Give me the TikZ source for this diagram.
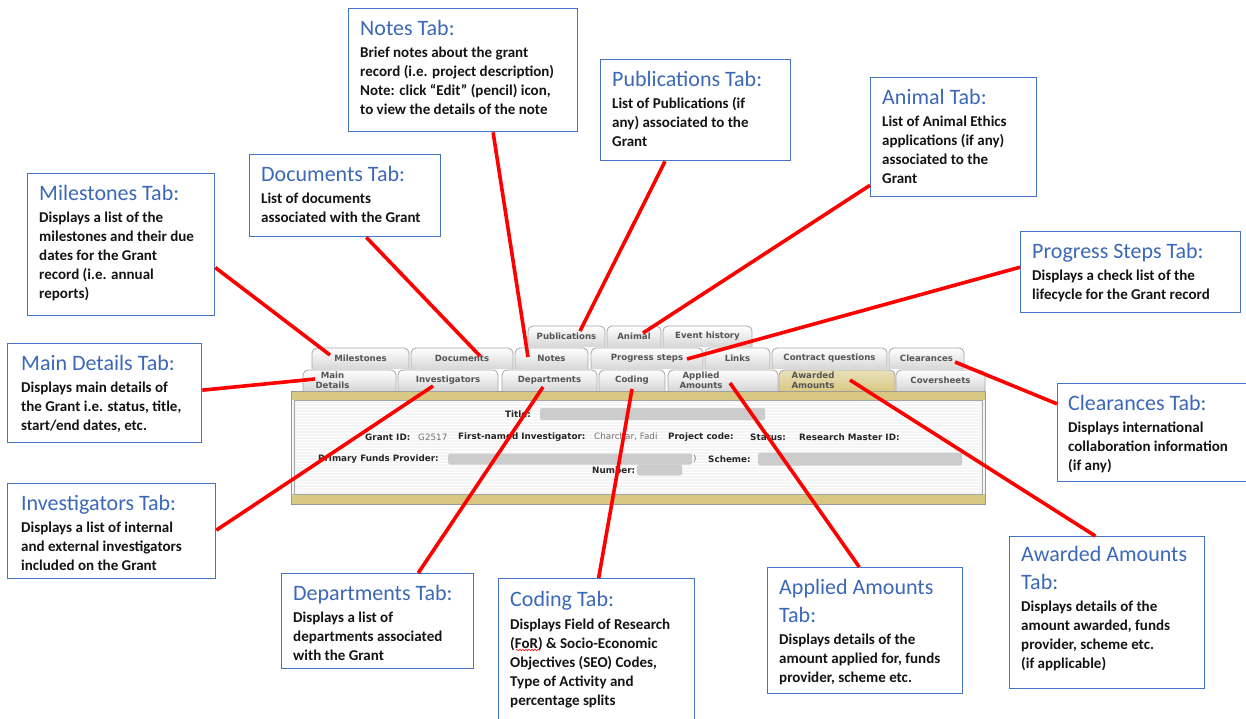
\documentclass[tikz,border=0pt]{standalone}
\usepackage{fontspec}
\setmainfont{Carlito}
\newfontfamily\uifont{DejaVu Sans}
\usetikzlibrary{calc,decorations.pathmorphing}
\definecolor{boxblue}{RGB}{68,114,196}
\definecolor{titleblue}{RGB}{60,104,184}
\definecolor{gold}{RGB}{217,200,132}
\definecolor{tabedge}{RGB}{165,165,165}
\definecolor{tabtxt}{RGB}{85,85,85}
\tikzset{
  callout/.style={draw=boxblue, line width=1.3pt, fill=white, anchor=north west, inner sep=0pt},
  calltext/.style={anchor=north west, align=left, inner sep=0pt,
    font=\bfseries\fontsize{15}{19}\selectfont, text=black!92},
  redline/.style={draw=red, line width=3.6pt},
  tabplain/.style={draw=tabedge, line width=0.8pt, top color=white, bottom color=black!16},
  tabgold/.style={draw=tabedge, line width=0.8pt, top color=gold!55!white, bottom color=gold},
  tablabel/.style={font=\uifont\bfseries\fontsize{8.6}{10.5}\selectfont, text=tabtxt, align=center, inner sep=0pt},
  formlabel/.style={font=\uifont\bfseries\fontsize{8.8}{9}\selectfont, text=black!85, inner sep=0pt, anchor=west},
  formvalue/.style={font=\uifont\fontsize{8.8}{9}\selectfont, text=black!55, inner sep=0pt, anchor=west},
  blur/.style={fill=black!20, rounded corners=2pt, draw=none, inner sep=0pt, anchor=west},
}
\newcommand\calltitle[1]{{\mdseries\fontsize{22}{24}\selectfont\color{titleblue}#1}}
% name, x1, ytop, x2, ybottom, style, label, label x-offset
\newcommand\mytab[8]{%
  \draw[#6] (#2,#5) [rounded corners=5pt] -- (#2,#3) -- (#4,#3) -- (#4,#5);
  \node[tablabel] (#1) at ({(#2+#4)/2+(#8)},{(#3+#5)/2}) {#7};}
\begin{document}
\begin{tikzpicture}[x=1pt,y=-1pt]
\useasboundingbox (0,0) rectangle (1246,718);
\fill[white] (0,0) rectangle (1246,718);

% ---------- screenshot panel ----------
\node[draw=black!40, fill=black!4, line width=0.8pt, anchor=north west,
      minimum width=694pt, minimum height=113pt, inner sep=0pt] (panel) at (291,391) {};
\foreach \yy in {403,406,...,491} \draw[white, line width=1pt] (296,\yy) -- (980,\yy);
\fill[gold] (291.5,391.5) rectangle (984.5,400);
\fill[gold] (291.5,494) rectangle (984.5,504);
\draw[black!35, line width=0.6pt] (294,400) rectangle (982,494);

% ---------- tabs ----------
\mytab{t-pub}{528}{326}{605}{347}{tabplain}{Publications}{0}
\mytab{t-ani}{607}{326}{661}{347}{tabplain}{Animal}{0}
\mytab{t-evt}{663}{326}{752}{347}{tabplain}{Event history}{0}

\mytab{t-ms}{312}{348}{409}{369}{tabplain}{Milestones}{0}
\mytab{t-doc}{411}{348}{513}{369}{tabplain}{Documents}{0}
\mytab{t-not}{515}{348}{588}{369}{tabplain}{Notes}{0}
\mytab{t-prg}{591}{348}{703}{369}{tabplain}{Progress steps}{0}
\mytab{t-lnk}{705}{348}{770}{369}{tabplain}{Links}{0}
\mytab{t-con}{772}{348}{887}{369}{tabplain}{Contract questions}{0}
\mytab{t-clr}{889}{348}{964}{369}{tabplain}{Clearances}{0}

\mytab{t-main}{303}{370}{396}{391}{tabplain}{Main\\Details}{-17}
\mytab{t-inv}{398}{370}{498}{391}{tabplain}{Investigators}{0}
\mytab{t-dep}{502}{370}{597}{391}{tabplain}{Departments}{0}
\mytab{t-cod}{599}{370}{665}{391}{tabplain}{Coding}{0}
\mytab{t-app}{668}{370}{778}{391}{tabplain}{Applied\\Amounts}{-22}
\mytab{t-awd}{779}{370}{895}{391}{tabgold}{Awarded\\Amounts}{-24}
\mytab{t-cov}{896}{370}{985}{391}{tabplain}{Coversheets}{0}

% ---------- form contents ----------
\node[formlabel, anchor=east] (f-title) at (531,414) {Title:};
\node[blur, minimum width=225pt, minimum height=12pt] (b-title) at (540,414) {};
\node[formlabel] (f-gid) at (365,437) {Grant ID:};
\node[formvalue] (v-gid) at (418,437) {G2517};
\node[formlabel] (f-fni) at (458,437) {First-named Investigator:};
\node[formvalue] (v-fni) at (594,437) {Charchar, Fadi};
\node[formlabel] (f-pc) at (668,437) {Project code:};
\node[formlabel] (f-st) at (750,437) {Status:};
\node[formlabel] (f-rm) at (799,437) {Research Master ID:};
\node[formlabel] (f-pfp) at (318,459) {Primary Funds Provider:};
\node[blur, minimum width=244pt, minimum height=11pt] (b-pfp) at (448,459) {};
\node[formvalue] (v-par) at (693,459) {)};
\node[formlabel] (f-sch) at (708,459) {Scheme:};
\node[blur, minimum width=204pt, minimum height=13pt] (b-sch) at (758,459) {};
\node[formlabel] (f-num) at (592,470) {Number:};
\node[blur, minimum width=45pt, minimum height=11pt] (b-num) at (637,470) {};

% ---------- connector end points on tabs ----------
\coordinate (e-ms) at (330,355);
\coordinate (e-doc) at (480,356);
\coordinate (e-not) at (528,357);
\coordinate (e-pub) at (580,331);
\coordinate (e-ani) at (643,333);
\coordinate (e-prg) at (687,359);
\coordinate (e-clr) at (955,362);
\coordinate (e-main) at (315,379);
\coordinate (e-inv) at (433,386);
\coordinate (e-dep) at (543,387);
\coordinate (e-cod) at (632,389);
\coordinate (e-app) at (730,383);
\coordinate (e-awd) at (850,380);

% ---------- callout boxes ----------
\node[callout, minimum width=229pt, minimum height=123pt] (notes) at (348,8) {};
\node[callout, minimum width=191pt, minimum height=82pt] (docs) at (249,154) {};
\node[callout, minimum width=187pt, minimum height=142pt] (ms) at (27,173) {};
\node[callout, minimum width=190pt, minimum height=101pt] (pubs) at (600,59) {};
\node[callout, minimum width=166pt, minimum height=119pt] (animal) at (870,77) {};
\node[callout, minimum width=220pt, minimum height=81pt] (prog) at (1020,231) {};
\node[callout, minimum width=194pt, minimum height=99pt] (main) at (7,343) {};
\node[callout, minimum width=208pt, minimum height=95pt] (inv) at (7,483) {};
\node[callout, minimum width=200pt, minimum height=98pt] (clear) at (1057,383) {};
\node[callout, minimum width=192pt, minimum height=95pt] (dept) at (281,573) {};
\node[callout, minimum width=196pt, minimum height=160pt] (coding) at (498,578) {};
\node[callout, minimum width=195pt, minimum height=126pt] (applied) at (767,567) {};
\node[callout, minimum width=195pt, minimum height=152pt] (awarded) at (1009,536) {};

% ---------- connectors ----------
\draw[redline] ($(ms.north east)!0.66!(ms.south east)$) -- (e-ms);
\draw[redline] ($(docs.south west)!0.61!(docs.south east)$) -- (e-doc);
\draw[redline] ($(notes.south west)!0.63!(notes.south east)$) -- (e-not);
\draw[redline] ($(pubs.south west)!0.34!(pubs.south east)$) -- (e-pub);
\draw[redline] ($(animal.north west)!0.9!(animal.south west)$) -- (e-ani);
\draw[redline] ($(prog.north west)!0.44!(prog.south west)$) -- (e-prg);
\draw[redline] ($(clear.north west)!0.21!(clear.south west)$) -- (e-clr);
\draw[redline] ($(main.north east)!0.47!(main.south east)$) -- (e-main);
\draw[redline] ($(inv.north east)!0.49!(inv.south east)$) -- (e-inv);
\draw[redline] ($(dept.north west)!0.71!(dept.north east)$) -- (e-dep);
\draw[redline] ($(coding.north west)!0.51!(coding.north east)$) -- (e-cod);
\draw[redline] ($(applied.north west)!0.47!(applied.north east)$) -- (e-app);
\draw[redline] ($(awarded.north west)!0.44!(awarded.north east)$) -- (e-awd);

% ---------- callout texts ----------
\node[calltext] (notes-t) at ($(notes.north west)+(12,12)$) {\calltitle{Notes Tab:}\\[3pt]
  Brief notes about the grant\\ record (i.e. project description)\\
  Note: click “Edit” (pencil) icon,\\ to view the details of the note};
\node[calltext] (docs-t) at ($(docs.north west)+(12,12)$) {\calltitle{Documents Tab:}\\[3pt]
  List of documents\\ associated with the Grant};
\node[calltext] (ms-t) at ($(ms.north west)+(12,12)$) {\calltitle{Milestones Tab:}\\[3pt]
  Displays a list of the\\ milestones and their due\\ dates for the Grant\\ record (i.e. annual\\ reports)};
\node[calltext] (pubs-t) at ($(pubs.north west)+(12,12)$) {\calltitle{Publications Tab:}\\[3pt]
  List of Publications (if\\ any) associated to the\\ Grant};
\node[calltext] (animal-t) at ($(animal.north west)+(12,12)$) {\calltitle{Animal Tab:}\\[3pt]
  List of Animal Ethics\\ applications (if any)\\ associated to the\\ Grant};
\node[calltext] (prog-t) at ($(prog.north west)+(12,12)$) {\calltitle{Progress Steps Tab:}\\[3pt]
  Displays a check list of the\\ lifecycle for the Grant record};
\node[calltext] (main-t) at ($(main.north west)+(14,12)$) {\calltitle{Main Details Tab:}\\[3pt]
  Displays main details of\\ the Grant i.e. status, title,\\ start/end dates, etc.};
\node[calltext] (inv-t) at ($(inv.north west)+(14,12)$) {\calltitle{Investigators Tab:}\\[3pt]
  Displays a list of internal\\ and external investigators\\ included on the Grant};
\node[calltext] (clear-t) at ($(clear.north west)+(11,12)$) {\calltitle{Clearances Tab:}\\[3pt]
  Displays international\\ collaboration information\\ (if any)};
\node[calltext] (dept-t) at ($(dept.north west)+(12,12)$) {\calltitle{Departments Tab:}\\[3pt]
  Displays a list of\\ departments associated\\ with the Grant};
\node[calltext] (coding-t) at ($(coding.north west)+(12,13)$) {\calltitle{Coding Tab:}\\[4pt]
  Displays Field of Research\\ (FoR) \& Socio-Economic\\ Objectives (SEO) Codes,\\ Type of Activity and\\ percentage splits};
\node[calltext] (applied-t) at ($(applied.north west)+(12,12)$) {\calltitle{Applied Amounts}\\[9pt]
  \calltitle{Tab:}\\[3pt]
  Displays details of the\\ amount applied for, funds\\ provider, scheme etc.};
\node[calltext] (awarded-t) at ($(awarded.north west)+(12,10)$) {\calltitle{Awarded Amounts}\\[9pt]
  \calltitle{Tab:}\\[3pt]
  Displays details of the\\ amount awarded, funds\\ provider, scheme etc.\\ (if applicable)};

% spell-check squiggle under FoR
\draw[red, line width=0.6pt, decorate, decoration={snake, amplitude=0.8pt, segment length=3pt}]
  (516,650) -- (540,650);
\end{tikzpicture}
\end{document}
